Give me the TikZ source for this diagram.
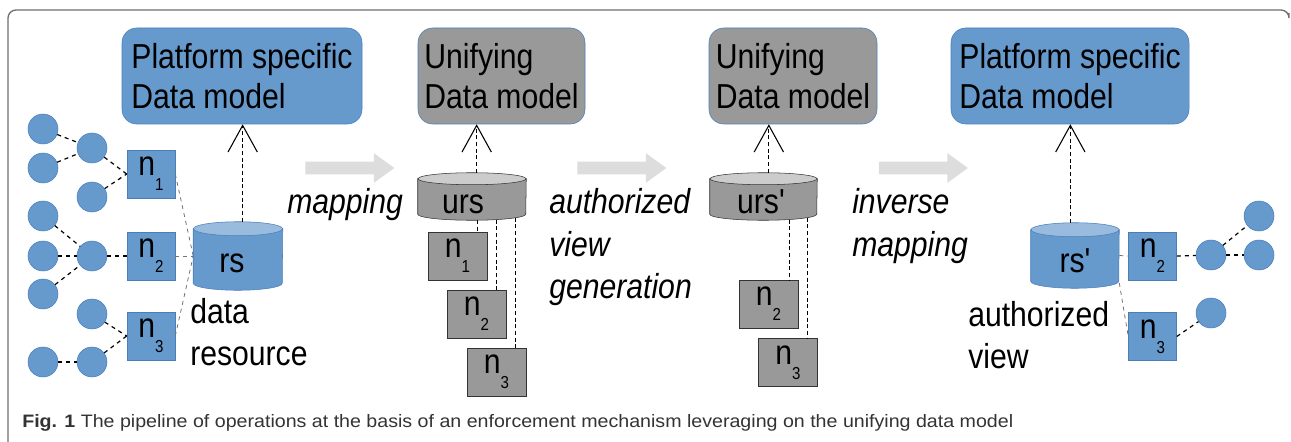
\documentclass[tikz,border=0pt]{standalone}
\usepackage{fontspec}
\usepackage{tikz}
\usetikzlibrary{shapes.arrows}
\usetikzlibrary{arrows.meta}
\newfontfamily\figfont[FakeStretch=0.87]{Liberation Sans}
\newfontfamily\capfont[FakeStretch=1.09]{Liberation Sans}
\definecolor{resblue}{RGB}{102,153,204}
\definecolor{resedge}{RGB}{74,126,187}
\definecolor{restop}{RGB}{153,187,221}
\definecolor{unigray}{RGB}{153,153,153}
\definecolor{unitop}{RGB}{204,204,204}
\definecolor{liftgray}{RGB}{221,221,221}
\definecolor{framegray}{RGB}{110,110,110}
\newcommand{\nsub}[1]{n\raisebox{-11pt}{\fontsize{13}{13}\selectfont #1}}
% drum: node name, x radius, y radius, body fill, top fill, edge
\newcommand{\drum}[6]{%
   \filldraw[fill=#4, draw=#6] ([yshift=-#3]#1.north west) -- ([yshift=#3]#1.south west)
      arc[start angle=180, end angle=360, x radius=#2, y radius=#3] -- ([yshift=-#3]#1.north east) -- cycle;
   \filldraw[fill=#5, draw=#6] ([yshift=-#3]#1.north) ellipse[x radius=#2, y radius=#3];
}
\tikzset{
   blob/.style={circle, fill=resblue, draw=resedge, minimum size=22.5pt, inner sep=0pt},
   nbox/.style={rectangle, fill=resblue, draw=resedge, minimum size=36pt, inner sep=0pt,
      font=\figfont\fontsize{26}{30}\selectfont},
   gbox/.style={rectangle, fill=unigray, draw=black!80, minimum width=44.25pt, minimum height=36pt,
      inner sep=0pt, font=\figfont\fontsize{26}{30}\selectfont},
   model/.style={rectangle, rounded corners=11pt, draw=resedge, align=left, minimum height=72pt,
      inner sep=2pt, font=\figfont\fontsize{26}{30}\selectfont},
   store/.style={rectangle, inner sep=0pt},
   storetext/.style={anchor=base, inner sep=0pt, font=\figfont\fontsize{26}{30}\selectfont},
   link/.style={draw=black, dashed, line width=0.9pt},
   faint/.style={draw=black!55, dashed, line width=0.6pt},
   drop/.style={draw=black, dash pattern=on 3pt off 2pt, line width=0.7pt},
   lift/.style={draw=black, dash pattern=on 3pt off 2pt, line width=0.8pt,
      -{Straight Barb[length=20pt,width=22pt,line width=0.8pt]}},
   stage/.style={single arrow, fill=liftgray, minimum height=66.75pt, inner xsep=0pt, inner ysep=4.5pt,
      single arrow head extend=6.4pt, single arrow tip angle=72},
   caps/.style={font=\figfont\fontsize{26}{31.5}\selectfont, align=left, inner sep=0pt},
}
\begin{document}
\begin{tikzpicture}[x=0.75pt, y=-0.75pt]
    \useasboundingbox (0,0) rectangle (1291,442);
    \draw[framegray, line width=1pt, rounded corners=6pt] (8,442) |- (1289,10) -- (1289,13);
    % data resource
    \node[blob] (l1) at (43,129) {};
    \node[blob] (l2) at (43,168) {};
    \node[blob] (l3) at (92,148) {};
    \node[blob] (l4) at (92,197) {};
    \node[blob] (l5) at (43,216) {};
    \node[blob] (l6) at (43,256) {};
    \node[blob] (l7) at (92,256) {};
    \node[blob] (l8) at (43,294) {};
    \node[blob] (l9) at (92,314) {};
    \node[blob] (l10) at (43,362) {};
    \node[blob] (l11) at (92,362) {};
    \node[nbox] (ln1) at (151,174) {\nsub{1}};
    \node[nbox] (ln2) at (151,256) {\nsub{2}};
    \node[nbox] (ln3) at (151,336) {\nsub{3}};
    \node[store, minimum width=66.75pt, minimum height=51pt] (rs) at (238,256) {};
    \drum{rs}{33.375pt}{5.25pt}{resblue}{restop}{resedge}
    \node[storetext] (rstext) at (232,272) {rs};
    \node[model, fill=resblue, minimum width=180pt] (psm) at (242,76) {Platform specific\\Data model};
    \draw[link] (l1) to (l3);
    \draw[link] (l2) to (l3);
    \draw[link] (l3) to (ln1.west);
    \draw[link] (l4) to (ln1.west);
    \draw[link] (l5) to (l7);
    \draw[link] (l6) to (l7);
    \draw[link] (l8) to (l7);
    \draw[link] (l7) to (ln2.west);
    \draw[link] (l9) to (ln3.west);
    \draw[link] (l10) to (l11);
    \draw[link] (l11) to (ln3.west);
    \draw[faint] (ln1.east) to (rs.west);
    \draw[faint] (ln2.east) to (rs.west);
    \draw[faint] (ln3.east) to (rs.west);
    \draw[lift] ([xshift=3.5pt]rs.north) to ([xshift=3.5pt]rs.north |- psm.south);
    \node[caps, anchor=north west] (dres) at (190,298) {data\\resource};
    % mapping
    \node[stage] (go1) at (345.5,168) {};
    \node[caps, anchor=base west, font=\figfont\itshape\fontsize{26}{31.5}\selectfont] (map) at (287,213) {mapping};
    \node[model, fill=unigray, minimum width=125.25pt] (umod1) at (501.5,76) {Unifying\\Data model};
    \node[store, minimum width=81pt, minimum height=35.25pt] (urs) at (472,196.5) {};
    \drum{urs}{40.5pt}{4.5pt}{unigray}{unitop}{black!80}
    \node[storetext] (urstext) at (463,213) {urs};
    \node[gbox] (un1) at (457.5,256) {\nsub{1}};
    \node[gbox] (un2) at (476.5,314) {\nsub{2}};
    \node[gbox] (un3) at (496.5,372) {\nsub{3}};
    \coordinate (ut1) at (477,220);
    \coordinate (ut2) at (496,219.5);
    \coordinate (ut3) at (515,217.5);
    \draw[lift] ([xshift=3.5pt]urs.north) to ([xshift=3.5pt]urs.north |- umod1.south);
    \draw[drop] (ut1) to (ut1 |- un1.north);
    \draw[drop] (ut2) to (ut2 |- un2.north);
    \draw[drop] (ut3) to (ut3 |- un3.north);
    % authorized view generation
    \node[stage] (go2) at (617.5,168) {};
    \node[caps, anchor=north west, font=\figfont\itshape\fontsize{26}{32}\selectfont] (avg) at (549,188) {authorized\\view\\generation};
    \node[model, fill=unigray, minimum width=126pt] (umod2) at (793,76) {Unifying\\Data model};
    \node[store, minimum width=80.25pt, minimum height=35.25pt] (ursp) at (763.5,196.5) {};
    \drum{ursp}{40.125pt}{4.5pt}{unigray}{unitop}{black!80}
    \node[storetext] (ursptext) at (761,213) {urs'};
    \node[gbox] (vn2) at (768.5,304) {\nsub{2}};
    \node[gbox] (vn3) at (788,362.5) {\nsub{3}};
    \coordinate (vt2) at (789,219.5);
    \coordinate (vt3) at (807,217.5);
    \draw[lift] ([xshift=4pt]ursp.north) to ([xshift=4pt]ursp.north |- umod2.south);
    \draw[drop] (vt2) to (vt2 |- vn2.north);
    \draw[drop] (vt3) to (vt3 |- vn3.north);
    % inverse mapping
    \node[stage] (go3) at (919,168) {};
    \node[caps, anchor=north west, font=\figfont\itshape\fontsize{26}{32}\selectfont] (inv) at (852,188) {inverse\\mapping};
    \node[model, fill=resblue, minimum width=178.5pt] (psm2) at (1070,76) {Platform specific\\Data model};
    \node[store, minimum width=66pt, minimum height=48.75pt] (rsp) at (1075,255.5) {};
    \drum{rsp}{33pt}{5.25pt}{resblue}{restop}{resedge}
    \node[storetext] (rsptext) at (1075,272) {rs'};
    \node[nbox] (rn2) at (1152.5,256) {\nsub{2}};
    \node[nbox] (rn3) at (1152.5,336.5) {\nsub{3}};
    \node[blob] (r1) at (1211,255) {};
    \node[blob] (r2) at (1259,216) {};
    \node[blob] (r3) at (1259,255) {};
    \node[blob] (r4) at (1211,313) {};
    \draw[lift] ([xshift=-3.5pt]rsp.north) to ([xshift=-3.5pt]rsp.north |- psm2.south);
    \draw[faint] (rsp.east) to (rn2.west);
    \draw[faint] ([yshift=4pt]rsp.south east) to (rn3.west);
    \draw[link] (rn2.east) to (r1);
    \draw[link] (r1) to (r2);
    \draw[link] (r1) to (r3);
    \draw[link] (rn3.east) to (r4);
    \node[caps, anchor=north west] (aview) at (968,301) {authorized\\view};
    % caption
    \node[anchor=base west, inner sep=0pt, text=black!80, font=\capfont\fontsize{13.5}{16}\selectfont] (cap)
        at (22,427) {\textbf{Fig. 1} The pipeline of operations at the basis of an enforcement mechanism leveraging on the unifying data model};
\end{tikzpicture}
\end{document}
